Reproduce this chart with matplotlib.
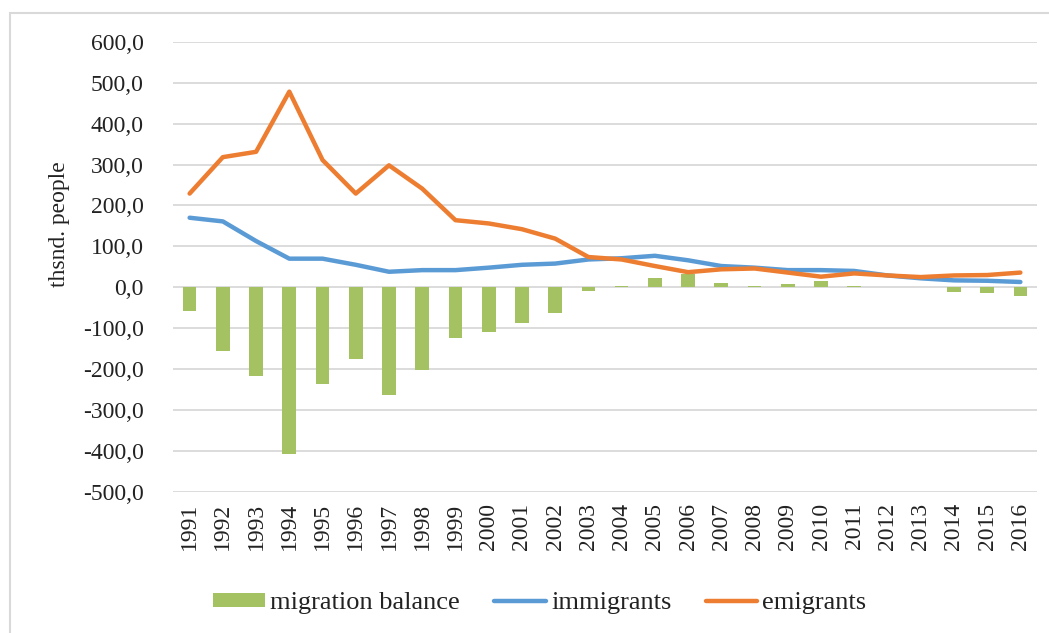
import matplotlib
matplotlib.use("Agg")
import matplotlib.pyplot as plt
from matplotlib.patches import Rectangle
import numpy as np

years = [str(y) for y in range(1991, 2017)]
immigrants = [170, 161, 113, 70, 70, 55, 38, 42, 42, 48, 55, 58, 68, 71, 77, 66,
              52, 48, 42, 42, 40, 29, 22, 17, 16, 13]
emigrants = [229, 318, 331, 478, 311, 229, 298, 241, 164, 156, 142, 119, 74, 68, 52, 37,
             44, 46, 36, 26, 34, 29, 25, 29, 30, 36]
balance = [-58, -156, -217, -406, -237, -174, -262, -202, -123, -108, -86, -62, -8, 4, 22, 32,
           10, 4, 7, 16, 4, 0, 0, -12, -15, -21]
yticks = [600, 500, 400, 300, 200, 100, 0, -100, -200, -300, -400, -500]

plt.rcParams['font.family'] = ['Liberation Serif', 'DejaVu Serif']

fig = plt.figure(figsize=(10.49, 6.33), dpi=100)
fig.patch.set_facecolor('white')
# outer frame (top and left edges visible)
fig.add_artist(Rectangle((10/1049, -0.1), 1.2, 1 - 13/633 + 0.1, transform=fig.transFigure,
                         fill=False, edgecolor='#D9D9D9', linewidth=1.5))

ax = fig.add_axes([173/1049, 1 - 492/633, (1037 - 173)/1049, (492 - 41.7)/633])
x = np.arange(len(years))
hb = ax.bar(x, balance, width=0.41, color='#A5C262', label='migration balance', zorder=2)
hi, = ax.plot(x, immigrants, color='#5B9BD5', linewidth=3.2, label='immigrants', zorder=3,
              solid_capstyle='round', solid_joinstyle='round')
he, = ax.plot(x, emigrants, color='#ED7D31', linewidth=3.2, label='emigrants', zorder=4,
              solid_capstyle='round', solid_joinstyle='round')

ax.set_xlim(-0.5, len(years) - 0.5)
ax.set_ylim(-500, 600)
ax.set_yticks(yticks)
ax.set_yticklabels([f"{v:.1f}".replace('.', ',') for v in yticks], fontsize=17, color='#222222')
ax.set_xticks(x)
ax.set_xticklabels(years, rotation=90, fontsize=17, color='#222222')
ax.tick_params(axis='y', length=0, pad=21)
ax.tick_params(axis='x', length=0, pad=8)
ax.grid(axis='y', color='#D9D9D9', linewidth=1.3, zorder=0)
ax.set_axisbelow(True)
for s in ax.spines.values():
    s.set_visible(False)

fig.text(60/1049, 1 - 224/633, 'thsnd. people', rotation=90, ha='center', va='center',
         fontsize=17, color='#222222')

leg = fig.legend([hb, hi, he], ['migration balance', 'immigrants', 'emigrants'],
                 loc='center', bbox_to_anchor=(540/1049, 1 - 603/633), ncol=3, frameon=False,
                 fontsize=19, handlelength=1.95, handleheight=0.45, columnspacing=1.3,
                 handletextpad=0.2)
for t in leg.get_texts():
    t.set_color('#222222')

fig.savefig('out.png', dpi=100)
